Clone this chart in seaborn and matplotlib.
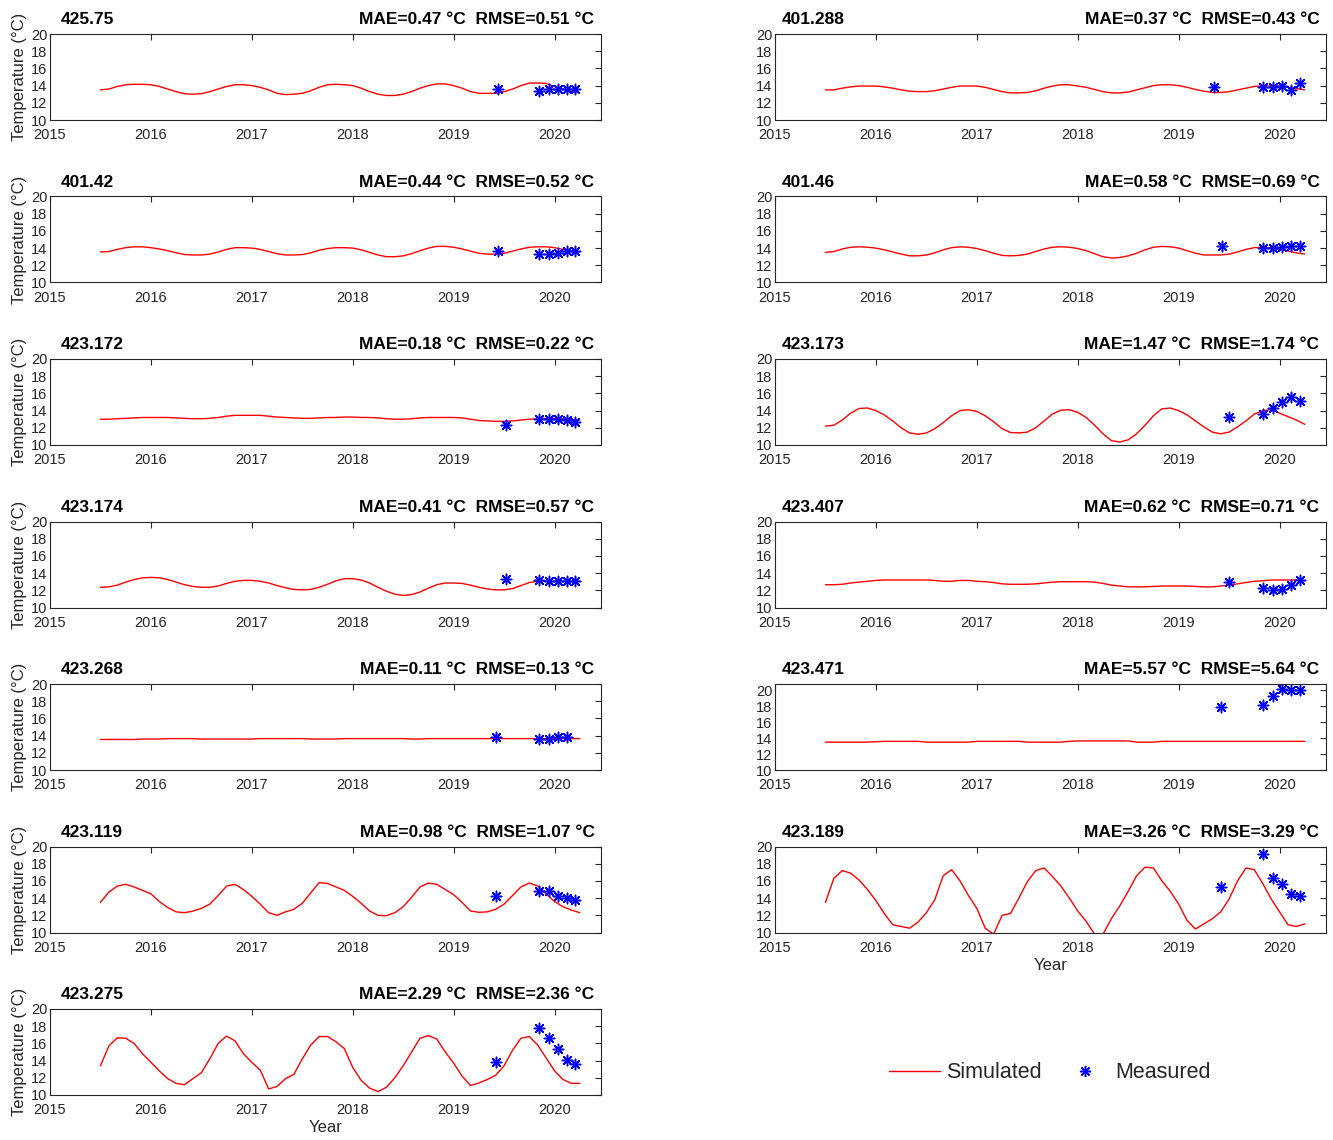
import numpy as np
import pandas as pd
import matplotlib
matplotlib.use("Agg")
import matplotlib.pyplot as plt
import seaborn as sns
from matplotlib.lines import Line2D

# monthly sample dates of the simulated series (Jul 2015 - Apr 2020)
sim_dates = pd.date_range("2015-07-01", "2020-04-01", freq="MS")
sim_years = sim_dates.year + (sim_dates.month - 1) / 12

# simulated temperature, one value per month
sim_425_75 = [13.5, 13.6, 13.9, 14.1, 14.15, 14.15,
              14.1, 13.9, 13.6, 13.3, 13.05, 13.0, 13.05, 13.3, 13.6, 13.9, 14.1, 14.1,
              14.0, 13.8, 13.5, 13.1, 12.95, 13.0, 13.1, 13.4, 13.8, 14.1, 14.15, 14.1,
              14.0, 13.7, 13.3, 13.0, 12.85, 12.85, 13.0, 13.3, 13.7, 14.0, 14.2, 14.2,
              14.0, 13.7, 13.3, 13.1, 13.1, 13.1, 13.3, 13.6, 14.0, 14.3, 14.3, 14.25,
              13.9, 13.6, 13.3, 13.2]
sim_401_288 = [13.5, 13.5, 13.7, 13.85, 13.95, 13.95,
               13.95, 13.85, 13.7, 13.5, 13.35, 13.3, 13.3, 13.4, 13.6, 13.8, 13.95, 13.95,
               13.95, 13.8, 13.55, 13.3, 13.15, 13.15, 13.2, 13.4, 13.7, 13.95, 14.1, 14.1,
               13.95, 13.8, 13.55, 13.3, 13.15, 13.15, 13.25, 13.5, 13.75, 14.0, 14.1, 14.1,
               14.0, 13.8, 13.55, 13.35, 13.2, 13.2, 13.3, 13.5, 13.7, 13.9, 13.95, 13.95,
               13.9, 13.8, 13.65, 13.5]
sim_401_42 = [13.55, 13.6, 13.85, 14.05, 14.15, 14.15,
              14.05, 13.9, 13.7, 13.45, 13.25, 13.2, 13.2, 13.3, 13.55, 13.85, 14.05, 14.05,
              14.0, 13.85, 13.6, 13.35, 13.2, 13.2, 13.25, 13.45, 13.75, 13.95, 14.05, 14.05,
              14.0, 13.8, 13.5, 13.2, 13.0, 13.0, 13.1, 13.35, 13.7, 14.0, 14.2, 14.2,
              14.1, 13.9, 13.65, 13.4, 13.3, 13.3, 13.4, 13.65, 13.9, 14.1, 14.15, 14.15,
              14.05, 13.85, 13.7, 13.55]
sim_401_46 = [13.5, 13.6, 13.9, 14.1, 14.15, 14.1,
              14.0, 13.8, 13.55, 13.3, 13.1, 13.1, 13.2, 13.45, 13.8, 14.05, 14.15, 14.1,
              13.95, 13.7, 13.4, 13.15, 13.1, 13.15, 13.3, 13.6, 13.9, 14.1, 14.15, 14.1,
              13.95, 13.7, 13.35, 13.0, 12.85, 12.9, 13.1, 13.4, 13.8, 14.1, 14.2, 14.15,
              14.0, 13.7, 13.4, 13.2, 13.2, 13.2, 13.3, 13.55, 13.85, 14.05, 14.1, 14.05,
              13.85, 13.65, 13.45, 13.3]
sim_423_172 = [13.0, 13.0, 13.05, 13.1, 13.15, 13.2,
               13.2, 13.2, 13.2, 13.15, 13.1, 13.05, 13.05, 13.1, 13.2, 13.35, 13.45, 13.45,
               13.45, 13.45, 13.35, 13.25, 13.2, 13.15, 13.1, 13.1, 13.15, 13.2, 13.2, 13.25,
               13.25, 13.2, 13.2, 13.15, 13.05, 13.0, 13.0, 13.05, 13.15, 13.2, 13.2, 13.2,
               13.2, 13.15, 13.0, 12.85, 12.8, 12.75, 12.75, 12.8, 12.9, 13.0, 13.05, 13.1,
               13.1, 13.05, 12.95, 12.9]
sim_423_173 = [12.2, 12.3, 12.9, 13.7, 14.25, 14.3,
               14.0, 13.5, 12.8, 12.0, 11.4, 11.25, 11.4, 11.9, 12.6, 13.4, 14.0, 14.1,
               13.9, 13.4, 12.7, 11.9, 11.45, 11.4, 11.5, 12.0, 12.8, 13.6, 14.05, 14.1,
               13.8, 13.2, 12.3, 11.3, 10.5, 10.35, 10.6, 11.3, 12.3, 13.4, 14.2, 14.3,
               14.0, 13.5, 12.8, 12.1, 11.5, 11.3, 11.5, 12.1, 12.8, 13.6, 14.0, 14.1,
               13.7, 13.3, 12.9, 12.4]
sim_423_174 = [12.35, 12.4, 12.6, 12.95, 13.25, 13.45,
               13.5, 13.45, 13.25, 12.95, 12.65, 12.45, 12.35, 12.35, 12.5, 12.8, 13.05, 13.15,
               13.15, 13.05, 12.85, 12.55, 12.3, 12.1, 12.05, 12.1, 12.35, 12.7, 13.1, 13.35,
               13.35, 13.2, 12.85, 12.35, 11.9, 11.55, 11.4, 11.5, 11.8, 12.25, 12.65, 12.85,
               12.85, 12.8, 12.6, 12.35, 12.15, 12.05, 12.05, 12.2, 12.55, 12.9, 13.05, 13.05,
               13.05, 13.05, 13.05, 13.05]
sim_423_407 = [12.65, 12.65, 12.7, 12.85, 12.95, 13.05,
               13.15, 13.2, 13.2, 13.2, 13.2, 13.2, 13.2, 13.15, 13.05, 13.05, 13.15, 13.15,
               13.05, 13.0, 12.9, 12.75, 12.7, 12.7, 12.7, 12.75, 12.85, 12.95, 13.0, 13.0,
               13.0, 13.0, 12.95, 12.8, 12.6, 12.5, 12.4, 12.4, 12.4, 12.45, 12.5, 12.5,
               12.5, 12.5, 12.45, 12.4, 12.4, 12.5, 12.6, 12.75, 12.9, 13.05, 13.1, 13.2,
               13.2, 13.2, 13.2, 13.1]
sim_423_268 = [13.55, 13.55, 13.55, 13.55, 13.55, 13.6,
               13.6, 13.6, 13.65, 13.65, 13.65, 13.65, 13.6, 13.6, 13.6, 13.6, 13.6, 13.6,
               13.6, 13.65, 13.65, 13.65, 13.65, 13.65, 13.65, 13.6, 13.6, 13.6, 13.6, 13.65,
               13.65, 13.65, 13.65, 13.65, 13.65, 13.65, 13.65, 13.6, 13.6, 13.65, 13.65, 13.65,
               13.65, 13.65, 13.65, 13.65, 13.65, 13.65, 13.65, 13.65, 13.65, 13.65, 13.65, 13.65,
               13.65, 13.65, 13.65, 13.65]
sim_423_471 = [13.5, 13.5, 13.5, 13.5, 13.5, 13.5,
               13.55, 13.6, 13.6, 13.6, 13.6, 13.6, 13.5, 13.5, 13.5, 13.5, 13.5, 13.5,
               13.6, 13.6, 13.6, 13.6, 13.6, 13.6, 13.5, 13.5, 13.5, 13.5, 13.5, 13.6,
               13.65, 13.65, 13.65, 13.65, 13.65, 13.65, 13.65, 13.5, 13.5, 13.5, 13.6, 13.6,
               13.6, 13.6, 13.6, 13.6, 13.6, 13.6, 13.6, 13.6, 13.6, 13.6, 13.6, 13.6,
               13.6, 13.6, 13.6, 13.6]
sim_423_119 = [13.5, 14.7, 15.4, 15.6, 15.3, 14.9,
               14.5, 13.6, 12.9, 12.4, 12.3, 12.5, 12.8, 13.3, 14.3, 15.4, 15.6, 15.0,
               14.2, 13.3, 12.3, 12.0, 12.4, 12.7, 13.4, 14.6, 15.8, 15.7, 15.3, 14.9,
               14.2, 13.4, 12.5, 12.0, 11.95, 12.3, 13.0, 14.1, 15.3, 15.75, 15.6, 15.0,
               14.4, 13.5, 12.5, 12.35, 12.4, 12.7, 13.3, 14.3, 15.3, 15.75, 15.4, 14.5,
               13.6, 13.0, 12.6, 12.3]
sim_423_189 = [13.5, 16.3, 17.2, 16.9, 16.1, 15.0,
               13.7, 12.2, 10.9, 10.7, 10.5, 11.2, 12.3, 13.8, 16.6, 17.3, 16.0, 14.3,
               12.8, 10.5, 9.8, 12.0, 12.2, 14.0, 15.9, 17.2, 17.5, 16.5, 15.4, 14.0,
               12.5, 11.3, 9.8, 9.8, 11.6, 13.1, 14.8, 16.6, 17.6, 17.5, 16.0, 14.8,
               13.3, 11.4, 10.4, 11.0, 11.6, 12.4, 13.9, 16.0, 17.5, 17.3, 15.7, 13.9,
               12.4, 10.9, 10.7, 11.0]
sim_423_275 = [13.4, 15.7, 16.65, 16.6, 16.0, 14.8,
               13.8, 12.8, 11.9, 11.35, 11.2, 11.9, 12.6, 14.2, 16.0, 16.85, 16.3, 14.8,
               13.8, 12.9, 10.7, 11.0, 11.9, 12.4, 14.2, 15.8, 16.8, 16.8, 16.2, 15.4,
               13.2, 11.7, 10.8, 10.4, 10.9, 12.0, 13.4, 15.0, 16.6, 16.9, 16.5, 15.0,
               13.7, 12.2, 11.1, 11.4, 11.8, 12.3, 13.4, 15.2, 16.6, 16.8, 15.8, 14.3,
               12.8, 11.8, 11.35, 11.35]

# measured values (decimal year, temperature)
meas_t_425_75 = [2019.44, 2019.85, 2019.94, 2020.03, 2020.12, 2020.2]
meas_425_75 = [13.65, 13.4, 13.6, 13.6, 13.6, 13.6]
meas_t_401_288 = [2019.35, 2019.84, 2019.93, 2020.02, 2020.11, 2020.2]
meas_401_288 = [13.85, 13.8, 13.8, 14.0, 13.45, 14.35]
meas_t_401_42 = [2019.44, 2019.85, 2019.94, 2020.03, 2020.12, 2020.2]
meas_401_42 = [13.7, 13.3, 13.3, 13.4, 13.65, 13.65]
meas_t_401_46 = [2019.43, 2019.84, 2019.93, 2020.02, 2020.11, 2020.2]
meas_401_46 = [14.3, 14.0, 14.0, 14.1, 14.3, 14.3]
meas_t_423_172 = [2019.52, 2019.85, 2019.94, 2020.03, 2020.12, 2020.2]
meas_423_172 = [12.35, 13.0, 13.0, 13.0, 12.85, 12.7]
meas_t_423_173 = [2019.5, 2019.84, 2019.93, 2020.02, 2020.11, 2020.2]
meas_423_173 = [13.3, 13.6, 14.25, 15.05, 15.55, 15.15]
meas_t_423_174 = [2019.52, 2019.85, 2019.94, 2020.03, 2020.12, 2020.2]
meas_423_174 = [13.35, 13.2, 13.05, 13.05, 13.05, 13.05]
meas_t_423_407 = [2019.5, 2019.84, 2019.93, 2020.02, 2020.11, 2020.2]
meas_423_407 = [13.0, 12.25, 12.0, 12.2, 12.6, 13.15]
meas_t_423_268 = [2019.42, 2019.85, 2019.94, 2020.03, 2020.12]
meas_423_268 = [13.85, 13.65, 13.65, 13.8, 13.8]
meas_t_423_471 = [2019.42, 2019.84, 2019.93, 2020.02, 2020.11, 2020.2]
meas_423_471 = [17.95, 18.15, 19.25, 20.2, 20.0, 20.0]
meas_t_423_119 = [2019.42, 2019.85, 2019.94, 2020.03, 2020.12, 2020.2]
meas_423_119 = [14.3, 14.8, 14.85, 14.25, 14.05, 13.8]
meas_t_423_189 = [2019.42, 2019.84, 2019.93, 2020.02, 2020.11, 2020.2]
meas_423_189 = [15.25, 19.1, 16.3, 15.65, 14.5, 14.2]
meas_t_423_275 = [2019.42, 2019.85, 2019.94, 2020.03, 2020.12, 2020.2]
meas_423_275 = [13.8, 17.75, 16.65, 15.3, 14.05, 13.55]

# panel order: (column, row)
left_col = [
    ("425.75", "MAE=0.47 °C  RMSE=0.51 °C", sim_425_75, meas_t_425_75, meas_425_75),
    ("401.42", "MAE=0.44 °C  RMSE=0.52 °C", sim_401_42, meas_t_401_42, meas_401_42),
    ("423.172", "MAE=0.18 °C  RMSE=0.22 °C", sim_423_172, meas_t_423_172, meas_423_172),
    ("423.174", "MAE=0.41 °C  RMSE=0.57 °C", sim_423_174, meas_t_423_174, meas_423_174),
    ("423.268", "MAE=0.11 °C  RMSE=0.13 °C", sim_423_268, meas_t_423_268, meas_423_268),
    ("423.119", "MAE=0.98 °C  RMSE=1.07 °C", sim_423_119, meas_t_423_119, meas_423_119),
    ("423.275", "MAE=2.29 °C  RMSE=2.36 °C", sim_423_275, meas_t_423_275, meas_423_275),
]
right_col = [
    ("401.288", "MAE=0.37 °C  RMSE=0.43 °C", sim_401_288, meas_t_401_288, meas_401_288),
    ("401.46", "MAE=0.58 °C  RMSE=0.69 °C", sim_401_46, meas_t_401_46, meas_401_46),
    ("423.173", "MAE=1.47 °C  RMSE=1.74 °C", sim_423_173, meas_t_423_173, meas_423_173),
    ("423.407", "MAE=0.62 °C  RMSE=0.71 °C", sim_423_407, meas_t_423_407, meas_423_407),
    ("423.471", "MAE=5.57 °C  RMSE=5.64 °C", sim_423_471, meas_t_423_471, meas_423_471),
    ("423.189", "MAE=3.26 °C  RMSE=3.29 °C", sim_423_189, meas_t_423_189, meas_423_189),
]
year_ticks = [2015, 2016, 2017, 2018, 2019, 2020]
temp_ticks = [10, 12, 14, 16, 18, 20]

sns.set_theme(style="white")
plt.rcParams["font.family"] = ["Liberation Sans", "DejaVu Sans"]

W, H = 1333, 1140
fig = plt.figure(figsize=(W / 100, H / 100), dpi=100)
asterisk = (8, 2, 0)
dark = "#262626"


def draw_panel(ax, name, stats, sim, mt, mv, col, last):
    sns.lineplot(x=sim_years, y=sim, ax=ax, color="red", linewidth=1.0)
    sns.scatterplot(x=mt, y=mv, ax=ax, marker=asterisk, color="blue",
                    s=55, linewidth=1.1, zorder=3)
    ax.set_xlim(2015, 2020.46)
    top = 20.8 if max(mv) > 20 else 20
    ax.set_ylim(10, top)
    ax.set_xticks(year_ticks)
    ax.set_yticks(temp_ticks)
    ax.tick_params(direction="in", top=True, right=True, length=4, width=0.8,
                   labelsize=10.5, colors=dark)
    ax.tick_params(axis="x", pad=6)
    ax.tick_params(axis="y", pad=2)
    for sp in ax.spines.values():
        sp.set_color(dark)
        sp.set_linewidth(0.8)
    name_x = 0.02 if col == 0 else 0.012
    ax.annotate(name, xy=(name_x, 1), xycoords="axes fraction", xytext=(0, 5),
                textcoords="offset points", ha="left", va="bottom",
                fontsize=12.5, fontweight="bold", color="black")
    ax.annotate(stats, xy=(0.988, 1), xycoords="axes fraction", xytext=(0, 5),
                textcoords="offset points", ha="right", va="bottom",
                fontsize=12.5, fontweight="bold", color="black")
    ax.set_xlabel("Year" if last else "", fontsize=12, color=dark, labelpad=2)
    ax.set_ylabel("Temperature (°C)" if col == 0 else "", fontsize=12, color=dark,
                  labelpad=3)


col_left = [50, 775]
ax_w, ax_h = 551, 86
for col, panels in enumerate([left_col, right_col]):
    for row, (name, stats, sim, mt, mv) in enumerate(panels):
        top_px = 34 + row * 162.5
        ax = fig.add_axes([col_left[col] / W, 1 - (top_px + ax_h) / H, ax_w / W, ax_h / H])
        draw_panel(ax, name, stats, sim, mt, mv, col, row == len(panels) - 1)

handles = [
    Line2D([], [], color="red", linewidth=1.0),
    Line2D([], [], color="blue", marker=asterisk, linestyle="none",
           markersize=8, markeredgewidth=1.1),
]
fig.legend(handles, ["Simulated", "Measured"], loc="center",
           bbox_to_anchor=(1050 / W, 1 - 1073 / H), ncol=2, frameon=False,
           fontsize=15.5, handlelength=2.4, handletextpad=0.25, columnspacing=0.8)

fig.savefig("out.png", dpi=100)
plt.close(fig)
